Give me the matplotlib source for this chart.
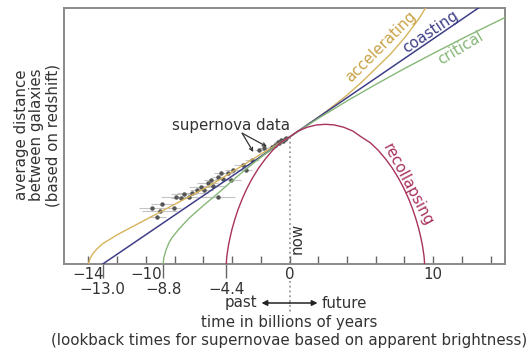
import matplotlib
matplotlib.use("Agg")
import matplotlib.pyplot as plt

plt.rcParams["font.family"] = "DejaVu Sans"

# time in billions of years (0 = now) vs. relative galaxy separation (1 = now)
accel_t = [-14.0, -13.9, -13.7, -13.4, -13.0, -12.0, -11.0, -10.0, -9.0, -8.0, -7.0,
           -6.0, -5.0, -4.0, -3.0, -2.0, -1.0, 0.0, 1.0, 2.0, 3.0, 4.0, 5.0, 6.0,
           7.0, 8.0, 9.0, 9.6]
accel_a = [0.0, 0.04, 0.08, 0.12, 0.16, 0.23, 0.29, 0.35, 0.41, 0.47, 0.53,
           0.59, 0.655, 0.725, 0.795, 0.865, 0.932, 1.0, 1.076, 1.155, 1.24, 1.33, 1.43, 1.54,
           1.65, 1.78, 1.93, 2.04]

coast_t = [-13.0, 0.0, 13.2]
coast_a = [0.0, 1.0, 2.02]

crit_t = [-8.8, -8.75, -8.6, -8.4, -8.2, -7.7, -7.0, -6.0, -5.0, -4.0, -3.0, -2.0,
          -1.0, 0.0, 2.0, 4.0, 6.0, 8.0, 10.0, 12.0, 14.0, 15.0]
crit_a = [0.0, 0.05, 0.11, 0.165, 0.205, 0.275, 0.36, 0.46, 0.555, 0.655, 0.75, 0.84,
          0.922, 1.0, 1.146, 1.284, 1.414, 1.539, 1.658, 1.774, 1.886, 1.941]

rec_t = [-4.40, -4.39, -4.37, -4.32, -4.25, -4.14, -4.00, -3.81, -3.58, -3.30, -2.97,
         -2.59, -2.16, -1.68, -1.17, -0.61, 0.00, 0.59, 1.23, 1.88, 2.50, 3.12, 3.77,
         4.41, 5.00, 5.61, 6.17, 6.68, 7.16, 7.59, 7.97, 8.30, 8.58, 8.81, 9.00, 9.14,
         9.25, 9.32, 9.37, 9.39, 9.40]
rec_a = [0.000, 0.025, 0.055, 0.096, 0.148, 0.208, 0.276, 0.351, 0.430, 0.511, 0.594,
         0.675, 0.754, 0.828, 0.896, 0.956, 1.000, 1.047, 1.077, 1.095, 1.100, 1.095, 1.077,
         1.047, 1.000, 0.956, 0.896, 0.828, 0.754, 0.675, 0.594, 0.511, 0.430, 0.351, 0.276, 0.208,
         0.148, 0.096, 0.055, 0.025, 0.000]

# supernova lookback times with their uncertainties
sn_t = [-9.56, -9.21, -9.04, -8.86, -8.04, -7.93, -7.57, -7.34, -6.99, -6.76, -6.41, -6.18,
        -5.94, -5.71, -5.48, -5.31, -5.01, -5.01, -4.78, -4.62, -4.31, -4.08, -3.96, -3.27,
        -3.03, -2.60, -2.10, -1.75, -1.20, -1.00, -0.82, -0.70, -0.58, -0.45, -0.35, -0.23]
sn_a = [0.439, 0.367, 0.420, 0.472, 0.439, 0.530, 0.517, 0.549, 0.530, 0.557, 0.583, 0.609,
        0.583, 0.635, 0.661, 0.614, 0.687, 0.530, 0.714, 0.667, 0.714, 0.661, 0.740, 0.780,
        0.740, 0.820, 0.898, 0.911, 0.925, 0.935, 0.963, 0.955, 0.976, 0.970, 0.984, 0.990]
sn_err = [0.9, 0.6, 1.2, 0.8, 0.5, 1.0, 0.7, 0.9, 0.6, 1.1, 0.5, 0.8,
          0.6, 0.7, 0.5, 0.9, 0.4, 1.2, 0.5, 0.6, 0.4, 0.7, 0.5, 0.6,
          0.4, 0.5, 0.3, 0.4, 0.3, 0.3, 0.25, 0.3, 0.2, 0.25, 0.2, 0.15]

major_ticks = [-14, -12, -10, -8, -6, -4, -2, 0, 2, 4, 6, 8, 10, 12, 14]
major_labels = ["\u221214", "", "\u221210", "", "", "", "", "0", "", "", "", "", "10", "", ""]
age_ticks = [-13.0, -8.8, -4.4]
age_labels = ["\u221213.0", "\u22128.8", "\u22124.4"]

c_acc = "#d6b35c"
c_coast = "#3f3f88"
c_crit = "#86b878"
c_rec = "#a8325e"
c_grey = "#8a8a8a"
c_text = "#333333"

fig = plt.figure(figsize=(5.32, 3.48), dpi=100)
ax = fig.add_axes([64 / 532, 84 / 348, 441 / 532, 256 / 348])
ax.set_xlim(-15.7, 15.0)
ax.set_ylim(0, 2.016)

for s in ax.spines.values():
    s.set_color(c_grey)
    s.set_linewidth(1.4)

# data first so the model curves sit on top
ax.errorbar(sn_t, sn_a, xerr=sn_err, fmt="o", ms=2.2, color="#555555",
            ecolor="#c4c4c4", elinewidth=0.8, capsize=0, zorder=2)

ax.plot(accel_t, accel_a, color=c_acc, lw=1.0, zorder=3)
ax.plot(coast_t, coast_a, color=c_coast, lw=1.1, zorder=3)
ax.plot(crit_t, crit_a, color=c_crit, lw=1.0, zorder=3)
ax.plot(rec_t, rec_a, color=c_rec, lw=1.0, zorder=3)

# "now" marker line, continued below the axis
ax.plot([0, 0], [1.0, 0.0], ls=":", color="#999999", lw=1.3, zorder=1)
ax.plot([0, 0], [-0.065, -0.19], ls=":", color="#999999", lw=1.3,
        transform=ax.get_xaxis_transform(), clip_on=False)

fs = 10.8
ax.text(0.55, 0.2, "now", rotation=90, ha="center", va="center", fontsize=fs, color=c_text)

ax.text(6.35, 1.71, "accelerating", rotation=45, rotation_mode="anchor",
        ha="center", va="center", fontsize=fs, color="#c9a245")
ax.text(9.8, 1.83, "coasting", rotation=34, rotation_mode="anchor",
        ha="center", va="center", fontsize=fs, color=c_coast)
ax.text(11.9, 1.70, "critical", rotation=31, rotation_mode="anchor",
        ha="center", va="center", fontsize=fs, color=c_crit)
ax.text(8.25, 0.62, "recollapsing", rotation=-62, rotation_mode="anchor",
        ha="center", va="center", fontsize=fs, color=c_rec)

ax.text(-4.1, 1.094, "supernova data", ha="center", va="center", fontsize=fs, color=c_text)
for target in [(-2.52, 0.882), (-1.57, 0.924)]:
    ax.annotate("", xy=target, xytext=(-3.3, 1.03),
                arrowprops=dict(arrowstyle="->", color=c_text, lw=0.9,
                                mutation_scale=6, shrinkA=0, shrinkB=0))

ax.set_yticks([])
ax.set_xticks(major_ticks)
ax.set_xticklabels(major_labels)
ax.set_xticks(age_ticks, minor=True)
ax.set_xticklabels(age_labels, minor=True)
ax.tick_params(axis="x", which="major", direction="in", length=6, width=1,
               color="#666666", labelsize=fs, labelcolor=c_text, pad=2.2)
ax.tick_params(axis="x", which="minor", direction="out", length=10, width=1,
               color="#666666", labelsize=fs, labelcolor=c_text, pad=3.2)

# past / future arrows under the axis
arrow_y = 45
for end in [-1.95, 1.95]:
    ax.annotate("", xy=(end, arrow_y), xytext=(0, arrow_y),
                xycoords=("data", "figure pixels"), textcoords=("data", "figure pixels"),
                arrowprops=dict(arrowstyle="-|>", color="#222222", lw=1.1,
                                mutation_scale=8, shrinkA=0, shrinkB=0))
ax.annotate("past", xy=(-2.25, arrow_y), xycoords=("data", "figure pixels"),
            ha="right", va="center", fontsize=fs, color=c_text)
ax.annotate("future", xy=(2.25, arrow_y), xycoords=("data", "figure pixels"),
            ha="left", va="center", fontsize=fs, color=c_text)
ax.annotate("time in billions of years", xy=(0, 25), xycoords=("data", "figure pixels"),
            ha="center", va="center", fontsize=fs, color=c_text)
ax.annotate("(lookback times for supernovae based on apparent brightness)", xy=(0, 8),
            xycoords=("data", "figure pixels"), ha="center", va="center",
            fontsize=fs, color=c_text)

fig.text(37 / 532, 213 / 348, "average distance\nbetween galaxies\n(based on redshift)",
         rotation=90, ha="center", va="center", multialignment="center",
         fontsize=fs, color=c_text, linespacing=1.05)

fig.savefig("out.png", dpi=100)
